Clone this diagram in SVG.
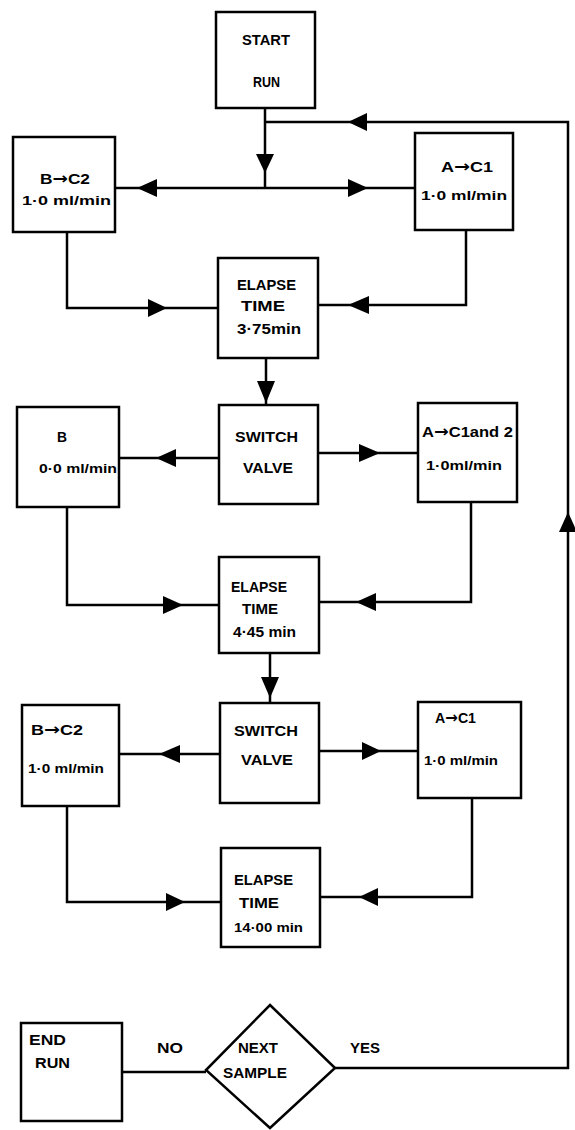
<svg xmlns="http://www.w3.org/2000/svg" width="575" height="1130" viewBox="0 0 575 1130">
<style>
.box{fill:#fff;stroke:#000;stroke-width:2.5}
.ln{fill:none;stroke:#000;stroke-width:2.5}
.ah{fill:#000}
.t{font-family:"Liberation Sans",Arial,sans-serif;font-weight:bold;font-size:15px;fill:#000}
.s{font-size:13px}
.ar{font-family:"DejaVu Sans",sans-serif;font-weight:bold;font-size:16px}
</style>
<rect width="575" height="1130" fill="#fff"/>
<g id="connectors">
<path class="ln" d="M265 108V188M265 122H568V1068H335M114 188H415M67 232V308H218M466 230V305H318M266 358V405M219 458H119M318 453H418M67 507V605H219M471 502V602H319M270 653V703M220 754H119M319 751H418M67 806V902H221M472 798V897H320M122 1072H206"/>
<polygon class="ah" points="256,154 274,154 265,173"/>
<polygon class="ah" points="348,122 367,113 367,131"/>
<polygon class="ah" points="137,188 157,179 157,197"/>
<polygon class="ah" points="368,188 348,179 348,197"/>
<polygon class="ah" points="167,308 148,299 148,317"/>
<polygon class="ah" points="348,305 369,296 369,314"/>
<polygon class="ah" points="257,381 275,381 266,403"/>
<polygon class="ah" points="156,458 176,449 176,467"/>
<polygon class="ah" points="380,453 359,444 359,462"/>
<polygon class="ah" points="568,512 559,532 577,532"/>
<polygon class="ah" points="183,605 163,596 163,614"/>
<polygon class="ah" points="356,602 376,593 376,611"/>
<polygon class="ah" points="261,677 279,677 270,698"/>
<polygon class="ah" points="159,754 180,745 180,763"/>
<polygon class="ah" points="381,751 362,742 362,760"/>
<polygon class="ah" points="185,902 166,893 166,911"/>
<polygon class="ah" points="359,897 378,888 378,906"/>
</g>
<g id="start"><rect class="box" x="216" y="12" width="99" height="96"/>
<text class="t" x="242" y="45" textLength="48" lengthAdjust="spacingAndGlyphs">START</text>
<text class="t" x="253" y="87" textLength="27" lengthAdjust="spacingAndGlyphs">RUN</text></g>
<g id="b-c2-1"><rect class="box" x="13" y="137" width="102" height="95"/>
<text class="t" x="40" y="184" textLength="50" lengthAdjust="spacingAndGlyphs">B<tspan class="ar">→</tspan>C2</text>
<text class="t s" x="22" y="205" textLength="89" lengthAdjust="spacingAndGlyphs">1·0  ml/min</text></g>
<g id="a-c1-1"><rect class="box" x="415" y="133" width="98" height="97"/>
<text class="t" x="441" y="172" textLength="52" lengthAdjust="spacingAndGlyphs">A<tspan class="ar">→</tspan>C1</text>
<text class="t s" x="421" y="200" textLength="86" lengthAdjust="spacingAndGlyphs">1·0 ml/min</text></g>
<g id="elapse-1"><rect class="box" x="218" y="258" width="100" height="100"/>
<text class="t" x="237" y="290" textLength="59" lengthAdjust="spacingAndGlyphs">ELAPSE</text>
<text class="t" x="241" y="311" textLength="44" lengthAdjust="spacingAndGlyphs">TIME</text>
<text class="t" x="237" y="334" textLength="64" lengthAdjust="spacingAndGlyphs">3·75min</text></g>
<g id="switch-1"><rect class="box" x="219" y="405" width="99" height="99"/>
<text class="t" x="235" y="442" textLength="63" lengthAdjust="spacingAndGlyphs">SWITCH</text>
<text class="t" x="243" y="473" textLength="50" lengthAdjust="spacingAndGlyphs">VALVE</text></g>
<g id="b-2"><rect class="box" x="17" y="407" width="102" height="100"/>
<text class="t" x="57" y="442" textLength="10" lengthAdjust="spacingAndGlyphs">B</text>
<text class="t s" x="39" y="473" textLength="78" lengthAdjust="spacingAndGlyphs">0·0 ml/min</text></g>
<g id="a-c12-2"><rect class="box" x="418" y="403" width="99" height="99"/>
<text class="t" x="422" y="437" textLength="91" lengthAdjust="spacingAndGlyphs">A<tspan class="ar">→</tspan>C1and 2</text>
<text class="t s" x="426" y="470" textLength="76" lengthAdjust="spacingAndGlyphs">1·0ml/min</text></g>
<g id="elapse-2"><rect class="box" x="219" y="557" width="100" height="96"/>
<text class="t" x="231" y="592" textLength="56" lengthAdjust="spacingAndGlyphs">ELAPSE</text>
<text class="t" x="242" y="614" textLength="36" lengthAdjust="spacingAndGlyphs">TIME</text>
<text class="t" x="233" y="637" textLength="63" lengthAdjust="spacingAndGlyphs">4·45 min</text></g>
<g id="switch-2"><rect class="box" x="220" y="703" width="99" height="100"/>
<text class="t" x="234" y="736" textLength="64" lengthAdjust="spacingAndGlyphs">SWITCH</text>
<text class="t" x="241" y="765" textLength="52" lengthAdjust="spacingAndGlyphs">VALVE</text></g>
<g id="b-c2-3"><rect class="box" x="22" y="705" width="97" height="101"/>
<text class="t" x="31" y="735" textLength="52" lengthAdjust="spacingAndGlyphs">B<tspan class="ar">→</tspan>C2</text>
<text class="t s" x="28" y="773" textLength="76" lengthAdjust="spacingAndGlyphs">1·0 ml/min</text></g>
<g id="a-c1-3"><rect class="box" x="418" y="702" width="103" height="96"/>
<text class="t" x="435" y="723" textLength="41" lengthAdjust="spacingAndGlyphs">A<tspan class="ar">→</tspan>C1</text>
<text class="t s" x="424" y="765" textLength="74" lengthAdjust="spacingAndGlyphs">1·0 ml/min</text></g>
<g id="elapse-3"><rect class="box" x="221" y="848" width="99" height="99"/>
<text class="t" x="234" y="885" textLength="59" lengthAdjust="spacingAndGlyphs">ELAPSE</text>
<text class="t" x="239" y="908" textLength="40" lengthAdjust="spacingAndGlyphs">TIME</text>
<text class="t s" x="234" y="932" textLength="69" lengthAdjust="spacingAndGlyphs">14·00 min</text></g>
<g id="end-run"><rect class="box" x="21" y="1023" width="101" height="98"/>
<text class="t" x="29" y="1045" textLength="37" lengthAdjust="spacingAndGlyphs">END</text>
<text class="t" x="35" y="1068" textLength="35" lengthAdjust="spacingAndGlyphs">RUN</text></g>
<g id="next-sample"><polygon class="box" points="270,1005 335,1068 270,1128 206,1070"/>
<text class="t" x="238" y="1053" textLength="40" lengthAdjust="spacingAndGlyphs">NEXT</text>
<text class="t" x="223" y="1078" textLength="64" lengthAdjust="spacingAndGlyphs">SAMPLE</text></g>
<g id="labels">
<text class="t" x="157" y="1053" textLength="26" lengthAdjust="spacingAndGlyphs">NO</text>
<text class="t" x="350" y="1053" textLength="30" lengthAdjust="spacingAndGlyphs">YES</text>
</g>
</svg>
